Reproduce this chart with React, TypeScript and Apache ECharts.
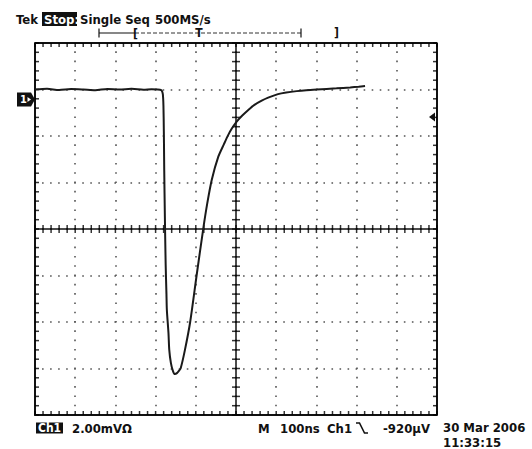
import React, { useEffect, useRef } from "react";
import * as echarts from "echarts";

// Time (ns, relative to trigger) and voltage (mV, relative to screen centre)
const timeNs = [
  -500, -470, -440, -410, -380, -350, -320, -290, -260, -230, -210, -195, -189,
  -185, -182, -180.5, -179.5, -178.5, -177, -175, -173, -172, -168, -166, -162, -157,
  -152, -147, -142, -137.6, -127, -114, -98, -81.3, -71.4, -60.4, -44, -30, -19.2,
  -10, 1.7, 15, 30.6, 45, 63.9, 80, 104.5, 125, 151, 175, 201, 250, 284, 305, 321,
];
const voltageMv = [
  6.0, 6.03, 5.98, 6.02, 6.0, 5.97, 6.02, 6.0, 6.03, 5.99, 6.01, 6.0, 5.99,
  5.96, 5.8, 5.3, 4.2, 2.5, 0.6, -1.5, -2.8, -3.48, -4.47, -5.2, -5.76, -6.1,
  -6.24, -6.2, -6.1, -5.99, -5.2, -4.0, -2.0, 0.03, 1.11, 2.11, 3.11, 3.65, 4.05,
  4.33, 4.62, 4.87, 5.12, 5.33, 5.52, 5.65, 5.8, 5.87, 5.93, 5.97, 6.0, 6.05, 6.09, 6.12, 6.15,
];

const X_MIN = -500;
const X_MAX = 500;
const X_STEP = 100;
const Y_MIN = -8;
const Y_MAX = 8;
const Y_STEP = 2;
const MINOR_SPLIT = 5;

const headerTexts = ["Tek", "Stop:", "Single Seq", "500MS/s"];
const footerTexts = ["Ch1", "2.00mVΩ", "M", "100ns", "Ch1", "-920µV", "30 Mar 2006", "11:33:15"];

const FONT = '"DejaVu Sans Condensed", "DejaVu Sans", sans-serif';
const INK = "#111";

function txt(text: string, x: number, y: number, opts: any = {}) {
  return {
    type: "text",
    x,
    y,
    z: 10,
    style: {
      text,
      fill: opts.fill || INK,
      fontFamily: FONT,
      fontWeight: "bold",
      fontSize: opts.size || 13,
      align: opts.align || "left",
      textAlign: opts.align || "left",
      verticalAlign: "middle",
      textVerticalAlign: "middle",
    },
  };
}

function tickSeries(data: number[][], size: number[], offset: number[]) {
  return {
    type: "scatter",
    data,
    symbol: "rect",
    symbolSize: size,
    symbolOffset: offset,
    itemStyle: { color: "#000" },
    silent: true,
    clip: false,
    z: 4,
  };
}

export default function App() {
  const ref = useRef<HTMLDivElement>(null);

  useEffect(() => {
    if (!ref.current) return;
    const chart = echarts.init(ref.current, undefined, { renderer: "svg" });

    // minor graticule positions, derived from the axis ranges
    const xMinor: number[] = [];
    for (let i = 0; i <= ((X_MAX - X_MIN) / X_STEP) * MINOR_SPLIT; i++)
      xMinor.push(X_MIN + (i * X_STEP) / MINOR_SPLIT);
    const yMinor: number[] = [];
    for (let i = 0; i <= ((Y_MAX - Y_MIN) / Y_STEP) * MINOR_SPLIT; i++)
      yMinor.push(Y_MIN + (i * Y_STEP) / MINOR_SPLIT);

    const option: any = {
      animation: false,
      backgroundColor: "#fff",
      grid: [{ left: 35, right: 95, top: 43, bottom: 34 }],
      xAxis: [
        {
          type: "value",
          min: X_MIN,
          max: X_MAX,
          interval: X_STEP,
          position: "bottom",
          axisLabel: { show: false },
          axisTick: { show: false },
          axisLine: { show: true, onZero: false, lineStyle: { color: INK, width: 2 } },
          splitLine: {
            show: true,
            lineStyle: { color: "#555", width: 1.6, type: [1.6, 7.7], dashOffset: 0.8 },
          },
        },
      ],
      yAxis: [
        {
          type: "value",
          min: Y_MIN,
          max: Y_MAX,
          interval: Y_STEP,
          position: "left",
          axisLabel: { show: false },
          axisTick: { show: false },
          axisLine: { show: true, onZero: false, lineStyle: { color: INK, width: 2 } },
          splitLine: {
            show: true,
            lineStyle: { color: "#555", width: 1.6, type: [1.6, 6.44], dashOffset: 0.8 },
          },
        },
      ],
      series: [
        {
          type: "line",
          data: [
            [X_MIN, Y_MAX],
            [X_MAX, Y_MAX],
            [X_MAX, Y_MIN],
          ],
          showSymbol: false,
          silent: true,
          lineStyle: { color: INK, width: 2 },
          z: 3,
        },
        {
          type: "line",
          data: [
            [X_MIN, 0],
            [X_MAX, 0],
          ],
          showSymbol: false,
          silent: true,
          lineStyle: { color: INK, width: 1.5 },
          z: 3,
        },
        {
          type: "line",
          data: [
            [0, Y_MIN],
            [0, Y_MAX],
          ],
          showSymbol: false,
          silent: true,
          lineStyle: { color: INK, width: 1.5 },
          z: 3,
        },
        tickSeries(xMinor.map((x) => [x, 0]), [1.5, 8], [0, 0]),
        tickSeries(xMinor.map((x) => [x, Y_MAX]), [1.5, 4], [0, 2]),
        tickSeries(xMinor.map((x) => [x, Y_MIN]), [1.5, 4], [0, -2]),
        tickSeries(yMinor.map((y) => [0, y]), [8, 1.5], [0, 0]),
        tickSeries(yMinor.map((y) => [X_MIN, y]), [4, 1.5], [2, 0]),
        tickSeries(yMinor.map((y) => [X_MAX, y]), [4, 1.5], [-2, 0]),
        {
          type: "line",
          data: timeNs.map((t, i) => [t, voltageMv[i]]),
          showSymbol: false,
          smooth: 0.25,
          lineStyle: { color: "#1a1a1a", width: 2 },
          z: 5,
        },
      ],
      graphic: [
        // header
        txt(headerTexts[0], 16, 19),
        { type: "rect", z: 9, shape: { x: 42, y: 12, width: 35, height: 14 }, style: { fill: INK } },
        txt(headerTexts[1], 44, 19, { fill: "#fff" }),
        txt(headerTexts[2], 80, 19),
        txt(headerTexts[3], 155, 19),
        // trigger position bar
        { type: "line", z: 10, shape: { x1: 99, y1: 33, x2: 135, y2: 33 }, style: { stroke: INK, lineWidth: 1.2 } },
        { type: "line", z: 10, shape: { x1: 135, y1: 33, x2: 301, y2: 33 }, style: { stroke: "#333", lineWidth: 1, lineDash: [4, 2] } },
        { type: "line", z: 10, shape: { x1: 99, y1: 28.5, x2: 99, y2: 37.5 }, style: { stroke: INK, lineWidth: 1.2 } },
        { type: "line", z: 10, shape: { x1: 301, y1: 28.5, x2: 301, y2: 37.5 }, style: { stroke: INK, lineWidth: 1.2 } },
        txt("[", 133, 34, { size: 12 }),
        txt("T", 199, 33, { size: 12, align: "center" }),
        txt("]", 334, 33, { size: 12 }),
        // channel ground marker
        {
          type: "polygon",
          z: 10,
          shape: { points: [[17, 92.5], [31, 92.5], [35, 99.5], [31, 106.5], [17, 106.5]] },
          style: { fill: INK },
        },
        txt("1", 20, 99.5, { fill: "#fff", size: 11 }),
        { type: "polygon", z: 11, shape: { points: [[27.5, 97], [31, 99.5], [27.5, 102]] }, style: { fill: "#fff" } },
        // trigger level marker
        { type: "polygon", z: 10, shape: { points: [[429, 117], [435, 112.5], [435, 121.5]] }, style: { fill: INK } },
        // footer
        { type: "rect", z: 9, shape: { x: 36, y: 422.5, width: 27, height: 11 }, style: { fill: INK } },
        txt(footerTexts[0], 38, 428, { fill: "#fff", size: 12 }),
        txt(footerTexts[1], 72, 428),
        txt(footerTexts[2], 258, 428),
        txt(footerTexts[3], 280, 428),
        txt(footerTexts[4], 327, 428),
        {
          type: "polyline",
          z: 10,
          shape: { points: [[356, 423], [359.5, 423], [364.5, 433], [368, 433]] },
          style: { stroke: INK, lineWidth: 1.6, fill: null },
        },
        txt(footerTexts[5], 383, 428),
        txt(footerTexts[6], 443, 427),
        txt(footerTexts[7], 443, 442),
      ],
    };

    chart.setOption(option);
    return () => chart.dispose();
  }, []);

  return (
    <div
      ref={ref}
      style={{ position: "fixed", left: 0, top: 0, width: 532, height: 449, background: "#fff" }}
    />
  );
}
